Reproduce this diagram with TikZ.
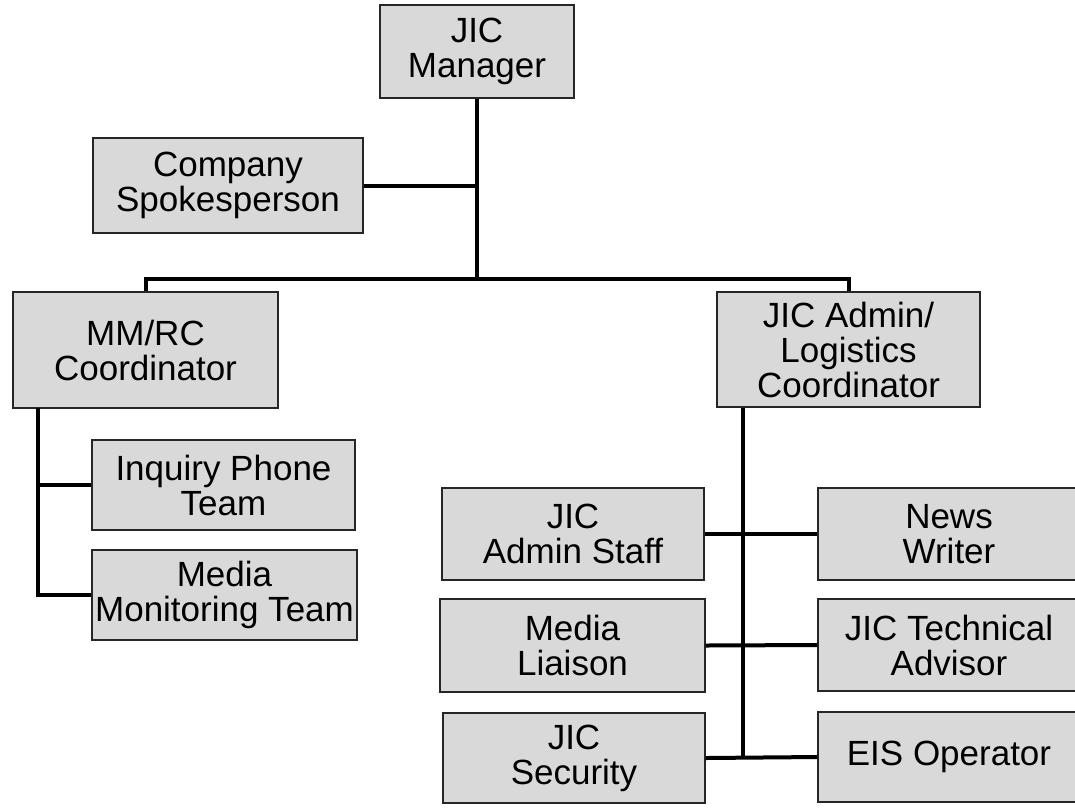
\documentclass[tikz,border=0pt]{standalone}
\usepackage{fontspec}
\setmainfont{Liberation Sans}
\begin{document}
\begin{tikzpicture}[x=1pt,y=-1pt,
  box/.style={draw=black!85, line width=1.3pt, fill=black!15, inner sep=0pt,
    align=center, font=\fontsize{35}{35}\selectfont},
  link/.style={line width=4pt, draw=black}
]
\useasboundingbox (0,0) rectangle (1075,807);
\fill[white] (0,0) rectangle (1075,807);

% top of the chart
\node[box, minimum width=194pt, minimum height=93pt]  (mgr)   at (477,51.5)  {JIC\\Manager};
\node[box, minimum width=270pt, minimum height=95pt]  (spk)   at (228,185.5) {Company\\Spokesperson};

% media monitoring / rumor control side
\node[box, minimum width=265pt, minimum height=116pt] (mmrc)  at (145.5,350) {MM/RC\\Coordinator};
\node[box, minimum width=263pt, minimum height=90pt]  (inq)   at (223.5,485) {Inquiry Phone\\Team};
\node[box, minimum width=265pt, minimum height=90pt]  (mon)   at (224.5,595) {Media\\Monitoring Team};

% admin / logistics side
\node[box, minimum width=263pt, minimum height=115pt] (adm)   at (848.5,349.5) {JIC Admin/\\Logistics\\Coordinator};
\node[box, minimum width=262pt, minimum height=92pt]  (staff) at (573,534)   {JIC\\Admin Staff};
\node[box, minimum width=265pt, minimum height=93pt]  (liai)  at (572.5,645.5) {Media\\Liaison};
\node[box, minimum width=262pt, minimum height=90pt]  (sec)   at (574,758)   {JIC\\Security};
\node[box, minimum width=262pt, minimum height=92pt]  (news)  at (949,534)   {News\\Writer};
\node[box, minimum width=262pt, minimum height=92pt]  (tech)  at (949,645)   {JIC Technical\\Advisor};
\node[box, minimum width=262pt, minimum height=90pt]  (eis)   at (949,757)   {EIS Operator};

% connector points
\coordinate (bus) at (477,280);
\coordinate (lv) at (38,408);
\coordinate (rv) at (743,408);

% top level
\draw[link] (mgr.south) -- (bus);
\draw[link] (spk.east) -- (spk.east -| bus);
\draw[link] (mmrc.north) -- ++(0,-12) -| (adm.north);

% left branch
\draw[link] (lv) |- (mon.west);
\draw[link] (lv |- inq.west) -- (inq.west);

% right branch
\draw[link] (rv) -- (rv |- eis.west);
\draw[link] (staff.east) -- (news.west);
\draw[link] (liai.east) -- (tech.west);
\draw[link] (sec.east) -- (eis.west);
\end{tikzpicture}
\end{document}
